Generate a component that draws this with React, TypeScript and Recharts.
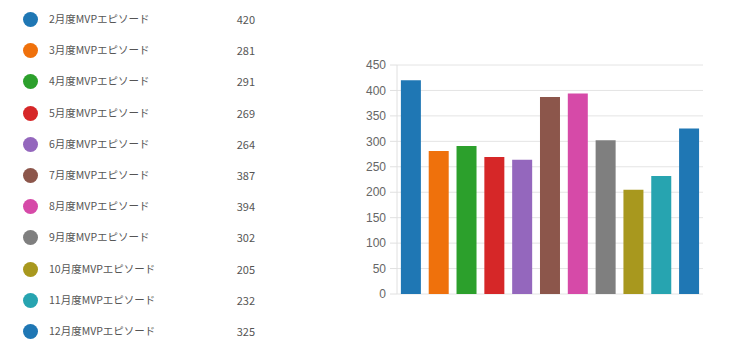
import { BarChart, Bar, Cell, CartesianGrid, XAxis, YAxis } from "recharts";

const categories = [
  "2月度MVPエピソード",
  "3月度MVPエピソード",
  "4月度MVPエピソード",
  "5月度MVPエピソード",
  "6月度MVPエピソード",
  "7月度MVPエピソード",
  "8月度MVPエピソード",
  "9月度MVPエピソード",
  "10月度MVPエピソード",
  "11月度MVPエピソード",
  "12月度MVPエピソード",
];
const values = [420, 281, 291, 269, 264, 387, 394, 302, 205, 232, 325];
const colors = [
  "#1f77b4",
  "#ef710c",
  "#2ca02c",
  "#d62728",
  "#9467bd",
  "#8c564b",
  "#d64aa8",
  "#7f7f7f",
  "#a8981e",
  "#27a4b0",
  "#1f77b4",
];
const yTicks = [0, 50, 100, 150, 200, 250, 300, 350, 400, 450];

const data = categories.map((name, i) => ({ name, value: values[i] }));

const App = () => {
  return (
    <div
      style={{
        position: "absolute",
        left: 0,
        top: 0,
        width: 734,
        height: 353,
        background: "#fff",
        overflow: "hidden",
      }}
    >
      <div style={{ position: "absolute", left: 0, top: 0 }}>
        {categories.map((name, i) => (
          <div
            key={name}
            style={{
              position: "absolute",
              top: 19 + i * 31.2 - 10,
              left: 0,
              width: 260,
              height: 20,
              fontFamily: "'Noto Sans CJK JP', sans-serif",
              fontSize: 10.5,
              color: "#555",
              lineHeight: "20px",
            }}
          >
            <span
              style={{
                position: "absolute",
                left: 23,
                top: 3,
                width: 15,
                height: 15,
                borderRadius: "50%",
                background: colors[i],
              }}
            />
            <span style={{ position: "absolute", left: 49 }}>{name}</span>
            <span style={{ position: "absolute", right: 5, fontSize: 11 }}>{values[i]}</span>
          </div>
        ))}
      </div>
      <div style={{ position: "absolute", left: 350, top: 0 }}>
        <BarChart
          width={384}
          height={353}
          data={data}
          margin={{ top: 65, right: 31, bottom: 59, left: 7 }}
          barCategoryGap="14%"
        >
          <CartesianGrid stroke="#e4e4e4" vertical={false} />
          <XAxis dataKey="name" hide />
          <YAxis
            width={40}
            domain={[0, 450]}
            ticks={yTicks}
            interval={0}
            axisLine={{ stroke: "#e0e0e0" }}
            tickLine={{ stroke: "#e0e0e0" }}
            tickSize={7}
            tickMargin={4}
            tick={{ fontSize: 12, fill: "#666", fontFamily: "'Liberation Sans', Arial, sans-serif" }}
          />
          <Bar dataKey="value" isAnimationActive={false}>
            {data.map((d, i) => (
              <Cell key={d.name} fill={colors[i]} />
            ))}
          </Bar>
        </BarChart>
      </div>
    </div>
  );
};

export default App;
